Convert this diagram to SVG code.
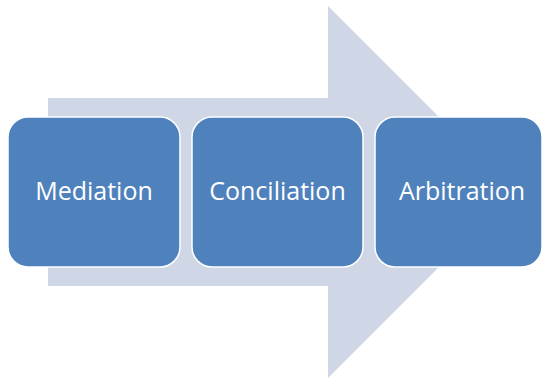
<svg xmlns="http://www.w3.org/2000/svg" width="544" height="380" viewBox="0 0 544 380">
<style>
.box{fill:#4F81BD;stroke:#FFFFFF;stroke-width:1.5}
.lbl{fill:#FFFFFF;font-family:"Open Sans","Liberation Sans",sans-serif;font-size:25px;text-anchor:middle}
</style>
<rect width="544" height="380" fill="#FFFFFF"/>
<g id="arrow">
<polygon points="48,98 328,98 328,6 514,192 328,378 328,286 48,286" fill="#CFD7E6"/>
</g>
<g id="connectors"></g>
<g id="mediation">
<rect class="box" x="8" y="117" width="172" height="150" rx="20"/>
<text class="lbl" x="94" y="200">Mediation</text>
</g>
<g id="conciliation">
<rect class="box" x="192" y="117" width="171" height="150" rx="20"/>
<text class="lbl" x="277.5" y="200">Conciliation</text>
</g>
<g id="arbitration">
<rect class="box" x="375" y="117" width="167" height="150" rx="20"/>
<text class="lbl" x="462" y="200">Arbitration</text>
</g>
</svg>
